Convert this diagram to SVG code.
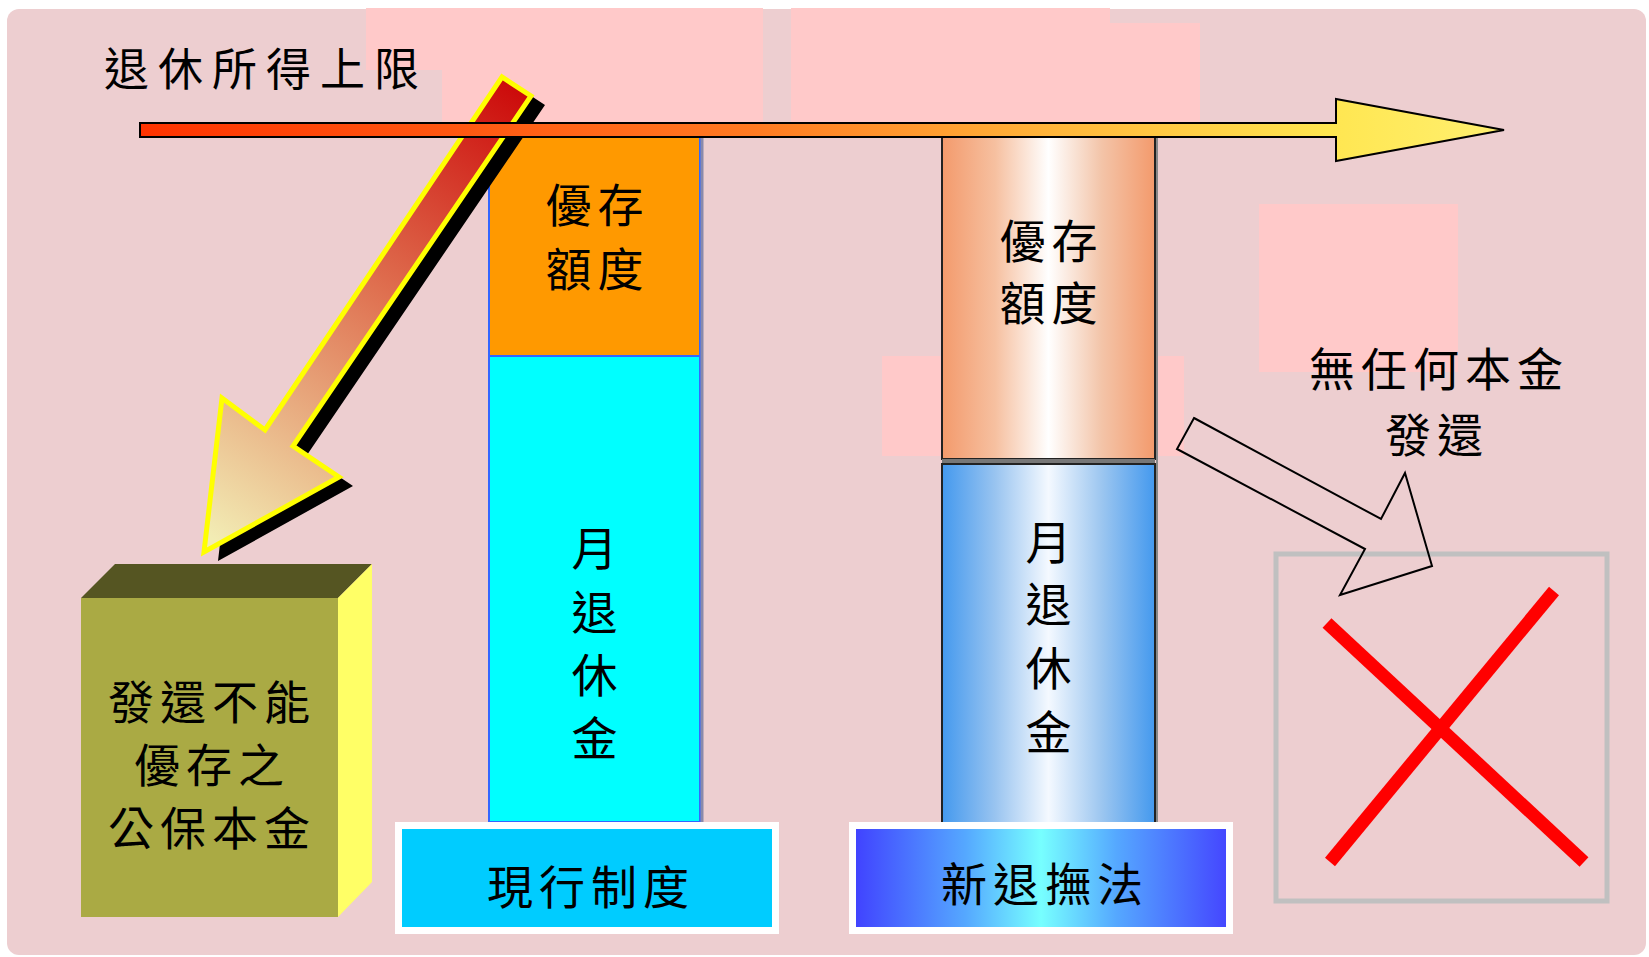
<svg xmlns="http://www.w3.org/2000/svg" width="1649" height="957" viewBox="0 0 1649 957">
<defs>
<style>
.t{font-family:"Noto Sans CJK TC","Noto Sans CJK SC",sans-serif;font-size:46px;fill:#000;letter-spacing:6px;text-anchor:middle}
.pk{fill:#FFC9C9}
</style>
<linearGradient id="gBar" gradientUnits="userSpaceOnUse" x1="140" y1="0" x2="1504" y2="0">
<stop offset="0" stop-color="#FF3300"/>
<stop offset="0.45" stop-color="#FF7A22"/>
<stop offset="0.68" stop-color="#FFB83C"/>
<stop offset="0.87" stop-color="#FFE650"/>
<stop offset="1" stop-color="#FFF070"/>
</linearGradient>
<linearGradient id="gDiag" gradientUnits="userSpaceOnUse" x1="516" y1="86" x2="215" y2="540">
<stop offset="0" stop-color="#CC0A0A"/>
<stop offset="0.45" stop-color="#DF7050"/>
<stop offset="1" stop-color="#F2ECB4"/>
</linearGradient>
<linearGradient id="gOr" x1="0" y1="0" x2="1" y2="0">
<stop offset="0" stop-color="#F39A6C"/>
<stop offset="0.25" stop-color="#F6C0A0"/>
<stop offset="0.5" stop-color="#FFFFFF"/>
<stop offset="0.75" stop-color="#F3C4A8"/>
<stop offset="1" stop-color="#F39A6C"/>
</linearGradient>
<linearGradient id="gBl" x1="0" y1="0" x2="1" y2="0">
<stop offset="0" stop-color="#4499EE"/>
<stop offset="0.25" stop-color="#99C4F0"/>
<stop offset="0.5" stop-color="#F4F9FF"/>
<stop offset="0.75" stop-color="#9CC6F0"/>
<stop offset="1" stop-color="#4499EE"/>
</linearGradient>
<linearGradient id="gNew" x1="0" y1="0" x2="1" y2="0">
<stop offset="0" stop-color="#4040FF"/>
<stop offset="0.3" stop-color="#55A8FF"/>
<stop offset="0.5" stop-color="#77FFFF"/>
<stop offset="0.7" stop-color="#55A8FF"/>
<stop offset="1" stop-color="#4444FF"/>
</linearGradient>
</defs>

<rect x="0" y="0" width="1649" height="957" fill="#FFFFFF"/>
<rect id="background" x="7" y="9" width="1639" height="946" rx="12" fill="#EDCED0"/>

<g id="pink-shapes">
<rect class="pk" x="366" y="8" width="397" height="62"/>
<rect class="pk" x="442" y="70" width="321" height="52"/>
<rect class="pk" x="791" y="8" width="319" height="114"/>
<rect class="pk" x="942" y="23" width="258" height="99"/>
<rect class="pk" x="1259" y="204" width="199" height="168"/>
<rect class="pk" x="882" y="356" width="302" height="100"/>
</g>

<g id="col-current">
<rect x="489" y="137" width="211" height="219" fill="#FF9900" stroke="#3366FF" stroke-width="2"/>
<rect x="489" y="356" width="211" height="466" fill="#00FFFF" stroke="#3366FF" stroke-width="2"/>
<line x1="702" y1="137" x2="702" y2="822" stroke="#8A8AAA" stroke-width="3"/>
<text class="t" x="597.5" y="222">優存</text>
<text class="t" x="597.5" y="286">額度</text>
<text class="t" x="597.5" y="565">月</text>
<text class="t" x="597.5" y="629">退</text>
<text class="t" x="597.5" y="692">休</text>
<text class="t" x="597.5" y="755">金</text>
</g>

<g id="col-new">
<rect x="942" y="137" width="213" height="322" fill="url(#gOr)" stroke="#222" stroke-width="2"/>
<rect x="942" y="459" width="213" height="5" fill="#777"/>
<rect x="942" y="464" width="213" height="359" fill="url(#gBl)" stroke="#222" stroke-width="2"/>
<line x1="1157" y1="137" x2="1157" y2="823" stroke="#888" stroke-width="2"/>
<text class="t" x="1051.5" y="258">優存</text>
<text class="t" x="1051.5" y="320">額度</text>
<text class="t" x="1051.5" y="559">月</text>
<text class="t" x="1051.5" y="621">退</text>
<text class="t" x="1051.5" y="685">休</text>
<text class="t" x="1051.5" y="749">金</text>
</g>

<g id="label-current">
<rect x="398.5" y="825.5" width="377" height="105" fill="#00CCFF" stroke="#FFFFFF" stroke-width="7"/>
<text class="t" x="591" y="904">現行制度</text>
</g>

<g id="label-new">
<rect x="852.5" y="825.5" width="377" height="105" fill="url(#gNew)" stroke="#FFFFFF" stroke-width="7"/>
<text class="t" x="1045" y="901">新退撫法</text>
</g>

<g id="box-gongbao">
<polygon points="81,598 338,598 372,564 115,564" fill="#555522"/>
<polygon points="338,598 372,564 372,882 338,917" fill="#FFFF66"/>
<rect x="81" y="598" width="257" height="319" fill="#AAAA44"/>
<text class="t" x="212" y="719">發還不能</text>
<text class="t" x="212" y="782">優存之</text>
<text class="t" x="212" y="845">公保本金</text>
</g>

<g id="no-return">
<rect x="1276" y="554" width="331" height="347" fill="none" stroke="#C0C0C0" stroke-width="5"/>
<line x1="1327" y1="623" x2="1584" y2="862" stroke="#FF0000" stroke-width="13"/>
<line x1="1554" y1="591" x2="1330" y2="862" stroke="#FF0000" stroke-width="13"/>
<text class="t" x="1439" y="386">無任何本金</text>
<text class="t" x="1437" y="452">發還</text>
</g>

<g id="connectors">
<polygon points="218,561 236,407 279,439 516,86 545,105 307,455 353,486" fill="#000"/>
<polygon points="204,552 222,398 265,430 502,77 531,96 293,446 339,477" fill="url(#gDiag)" stroke="#FFFF00" stroke-width="5" stroke-linejoin="miter"/>
<polygon points="140,123 1336,123 1336,99 1504,130 1336,161 1336,137 140,137" fill="url(#gBar)" stroke="#000" stroke-width="2"/>
<polygon points="1194,418 1381,519 1405,473 1432,566 1340,595 1365,549 1177,449" fill="none" stroke="#000" stroke-width="2"/>
</g>

<text class="t" style="text-anchor:start;font-size:45px;letter-spacing:9px" x="104" y="86">退休所得上限</text>
</svg>
